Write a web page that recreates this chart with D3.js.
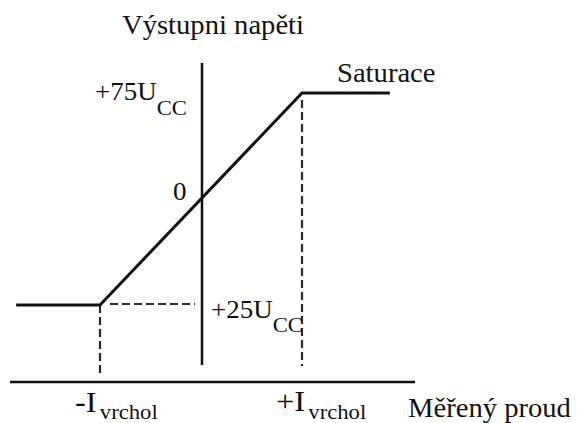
<!DOCTYPE html>
<html>
<head>
<meta charset="utf-8">
<script src="https://cdn.jsdelivr.net/npm/d3@7"></script>
<style>
  html, body { margin: 0; padding: 0; background: #fff; }
  svg { display: block; }
</style>
</head>
<body>
<svg id="chart" width="578" height="423"></svg>
<script>
// Transfer characteristic: measured current (in units of I_peak) vs. output voltage (% of U_CC)
const currentPoints = [-1.83, -1, 1, 1.87];
const voltagePoints = [25, 25, 75, 75];
const peakCurrents = [-1, 1];
const peakLabels = ["-I", "+I"];
const levelValues = [75, 25];
const levelLabels = ["+75U", "+25U"];
const zeroLabel = "0";
const titleY = "Výstupni napěti";
const titleX = "Měřený proud";
const satLabel = "Saturace";

// pick the first installed serif face
function pickFont(cands) {
  const ctx = document.createElement("canvas").getContext("2d");
  const probe = "Výstupni napěti WMmIil 0123";
  const widthOf = f => { ctx.font = "40px " + f; return ctx.measureText(probe).width; };
  const base = [widthOf("monospace"), widthOf("sans-serif")];
  for (const c of cands) {
    const w1 = widthOf(`'${c}', monospace`), w2 = widthOf(`'${c}', sans-serif`);
    if (w1 !== base[0] || w2 !== base[1]) return `'${c}', serif`;
  }
  return "serif";
}
const serif = pickFont(["Liberation Serif", "Tinos", "Times New Roman", "Nimbus Roman",
  "FreeSerif", "Noto Serif", "DejaVu Serif", "Linux Libertine"]);

const svg = d3.select("#chart");
const baseY = 382;         // horizontal axis line
const stretch = 1.08;      // horizontal glyph stretch

const x = d3.scaleLinear().domain([-1, 1]).range([100, 302]);
const y = d3.scaleLinear().domain([25, 75]).range([305, 93]);

// helper for stretched text with optional subscript
function label(px, py, main, size, sub, subSize, subDy, subDx) {
  const t = svg.append("text")
    .attr("transform", `translate(${px},${py}) scale(${stretch},1)`)
    .style("font-family", serif)
    .attr("fill", "#111")
    .attr("font-size", size);
  t.append("tspan").text(main);
  if (sub) {
    t.append("tspan").attr("dy", subDy).attr("dx", subDx || 0)
      .attr("font-size", subSize).text(sub);
  }
  return t;
}

// axes
svg.append("line")
  .attr("x1", 10).attr("x2", 415)
  .attr("y1", baseY).attr("y2", baseY)
  .attr("stroke", "#111").attr("stroke-width", 2.5);

svg.append("line")
  .attr("x1", x(0) + 1).attr("x2", x(0) + 1)
  .attr("y1", 63).attr("y2", 365)
  .attr("stroke", "#111").attr("stroke-width", 2.5);

// dashed guides
const dash = "8,4";
const guide = (x1, y1, x2, y2) => svg.append("line")
  .attr("x1", x1).attr("y1", y1).attr("x2", x2).attr("y2", y2)
  .attr("stroke", "#2a2a2a").attr("stroke-width", 2.2).attr("stroke-dasharray", dash);
guide(x(-1), y(25), x(-1), 377);
guide(x(1), y(75) + 7, x(1), 366);
guide(x(-1) + 10, y(25) - 1, x(0) - 6, y(25) - 1);

// characteristic curve
const pts = currentPoints.map((c, i) => [c, voltagePoints[i]]);
svg.append("path")
  .datum(pts)
  .attr("fill", "none")
  .attr("stroke", "#111")
  .attr("stroke-width", 3)
  .attr("stroke-linejoin", "miter")
  .attr("d", d3.line().x(d => x(d[0])).y(d => y(d[1])));

// texts
label(122, 34, titleY, 26.5);
label(337, 82, satLabel, 26.5);
label(95, 100, levelLabels[0], 25, "CC", 21, 15);
label(211, 318, levelLabels[1], 25, "CC", 21, 14);
label(173, 200, zeroLabel, 25);
label(x(peakCurrents[0]) - 25, 412, peakLabels[0], 30, "vrchol", 21, 7, 3);
label(x(peakCurrents[1]) - 26, 411, peakLabels[1], 30, "vrchol", 21, 8, 3);
label(408, 417, titleX, 26.5);
</script>
</body>
</html>
